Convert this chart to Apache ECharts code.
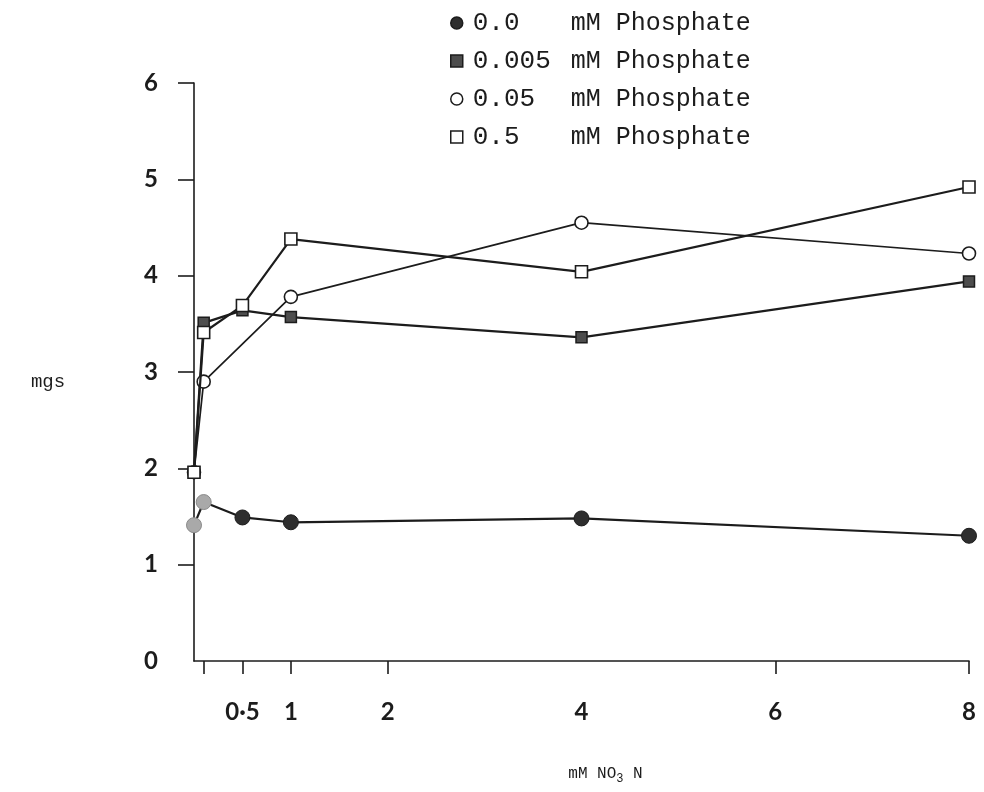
<!DOCTYPE html>
<html>
<head>
<meta charset="utf-8">
<script src="https://cdn.jsdelivr.net/npm/echarts@6/dist/echarts.min.js"></script>
<style>
  html, body { margin: 0; padding: 0; background: #ffffff; }
  #chart { width: 984px; height: 792px; }
</style>
</head>
<body>
<div id="chart"></div>
<script>
// Nitrate supply (mM NO3 N) at which each culture was grown
const nitrateLevels = [0, 0.1, 0.5, 1, 4, 8];

// Dry weight (mgs) for each phosphate level; null = not measured
const phosphateLevels = ['0.0', '0.005', '0.05', '0.5'];
const weightP0 = [1.41, 1.65, 1.49, 1.44, 1.48, 1.30];
const weightP0005 = [1.96, 3.51, 3.64, 3.57, 3.36, 3.94];
const weightP005 = [1.96, 2.90, null, 3.78, 4.55, 4.23];
const weightP05 = [1.96, 3.41, 3.69, 4.38, 4.04, 4.92];

// Axis ticks and labels
const xTickValues = [0.1, 0.5, 1, 2, 6, 8];
const xLabelValues = [0.5, 1, 2, 4, 6, 8];
const yTickValues = [1, 2, 3, 4, 5, 6];
const yLabelValues = [0, 1, 2, 3, 4, 5, 6];

const INK = '#1c1c1c';
const MONO = '"Liberation Mono", "DejaVu Sans Mono", monospace';
const BOLD_SANS = 'Lato, "Open Sans", sans-serif';

function pairs(values) {
  return nitrateLevels.map((x, i) => [x, values[i]]);
}

// Markers for the first two no-phosphate cultures print paler
function pairsFaded(values, fadedCount) {
  return nitrateLevels.map((x, i) => i < fadedCount
    ? { value: [x, values[i]], itemStyle: { color: '#a9a9a9', borderColor: '#8a8a8a' } }
    : [x, values[i]]);
}

const lineBase = {
  type: 'line',
  connectNulls: true,
  showSymbol: true,
  lineStyle: { color: INK, width: 2.2 },
  emphasis: { disabled: true },
  animation: false
};

const chart = echarts.init(document.getElementById('chart'), null, { renderer: 'canvas' });

chart.setOption({
  backgroundColor: '#ffffff',
  animation: false,
  grid: { left: 194, right: 15, top: 83, bottom: 131 },
  legend: {
    orient: 'vertical',
    left: 450,
    top: 10,
    padding: 0,
    itemGap: 12,
    itemWidth: 12,
    itemHeight: 12,
    selectedMode: false,
    data: [
      { name: phosphateLevels[0], icon: 'circle' },
      { name: phosphateLevels[1], icon: 'rect' },
      { name: phosphateLevels[2], icon: 'circle' },
      { name: phosphateLevels[3], icon: 'rect' }
    ],
    itemStyle: { borderWidth: 1.5 },
    formatter: name => `{n|${name}}{u|mM Phosphate}`,
    textStyle: {
      color: INK,
      fontFamily: MONO,
      rich: {
        n: { fontFamily: MONO, fontSize: 26, color: INK, width: 98, lineHeight: 30, padding: [0, 0, 0, 5] },
        u: { fontFamily: MONO, fontSize: 25, color: INK, lineHeight: 30 }
      }
    }
  },
  xAxis: {
    type: 'value',
    min: 0,
    max: 8,
    interval: 1,
    offset: 2,
    splitLine: { show: false },
    axisLine: { show: true, lineStyle: { color: INK, width: 1.6 } },
    axisTick: { show: true, length: 13, customValues: xTickValues, lineStyle: { color: INK, width: 1.6 } },
    axisLabel: {
      customValues: xLabelValues,
      margin: 37,
      color: INK,
      fontFamily: BOLD_SANS,
      fontWeight: 'bold',
      fontSize: 24,
      formatter: v => String(v).replace('.', '·')
    },
    name: 'mM NO{sub|3} N',
    nameLocation: 'middle',
    nameGap: 100,
    nameTextStyle: {
      color: INK,
      fontFamily: MONO,
      fontSize: 16,
      padding: [0, 0, 0, 48],
      rich: {
        sub: { fontFamily: MONO, fontSize: 12, color: INK, verticalAlign: 'bottom', padding: [10, 0, 0, 0] }
      }
    }
  },
  yAxis: {
    type: 'value',
    min: 0,
    max: 6,
    interval: 1,
    splitLine: { show: false },
    axisLine: { show: true, lineStyle: { color: INK, width: 1.6 } },
    axisTick: { show: true, length: 16, customValues: yTickValues, lineStyle: { color: INK, width: 1.6 } },
    axisLabel: {
      customValues: yLabelValues,
      margin: 36,
      color: INK,
      fontFamily: BOLD_SANS,
      fontWeight: 'bold',
      fontSize: 24,
      padding: [0, 0, 14, 0]
    },
    name: 'mgs',
    nameLocation: 'middle',
    nameRotate: 0,
    nameGap: 146,
    nameTextStyle: { color: INK, fontFamily: MONO, fontSize: 19, align: 'center', verticalAlign: 'top' }
  },
  series: [
    Object.assign({}, lineBase, {
      name: phosphateLevels[0],
      symbol: 'circle',
      symbolSize: 15,
      itemStyle: { color: '#2e2e2e', borderColor: INK, borderWidth: 1 },
      data: pairsFaded(weightP0, 2),
      z: 2
    }),
    Object.assign({}, lineBase, {
      name: phosphateLevels[1],
      symbol: 'rect',
      symbolSize: 11,
      itemStyle: { color: '#4d4d4d', borderColor: INK, borderWidth: 1.5 },
      data: pairs(weightP0005),
      z: 3
    }),
    Object.assign({}, lineBase, {
      name: phosphateLevels[2],
      symbol: 'circle',
      symbolSize: 13,
      lineStyle: { color: INK, width: 1.7 },
      itemStyle: { color: '#ffffff', borderColor: INK, borderWidth: 1.6 },
      data: pairs(weightP005),
      z: 4
    }),
    Object.assign({}, lineBase, {
      name: phosphateLevels[3],
      symbol: 'rect',
      symbolSize: 12,
      itemStyle: { color: '#ffffff', borderColor: INK, borderWidth: 1.6 },
      data: pairs(weightP05),
      z: 5
    })
  ]
});
</script>
</body>
</html>
